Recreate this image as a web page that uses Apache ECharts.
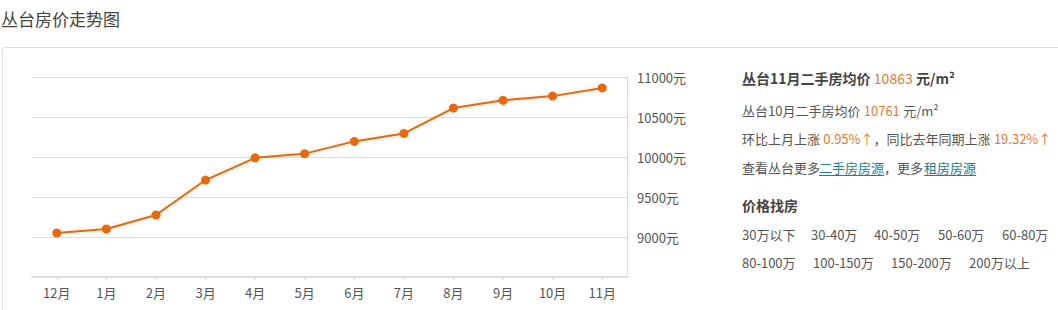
<!DOCTYPE html>
<html>
<head>
<meta charset="utf-8">
<script src="https://cdn.jsdelivr.net/npm/echarts@6/dist/echarts.min.js"></script>
<style>
html,body{margin:0;padding:0;background:#fff;}
#c{width:1058px;height:310px;}
</style>
</head>
<body>
<div id="c"></div>
<script>
const title = '丛台房价走势图';
const categories = ['12月','1月','2月','3月','4月','5月','6月','7月','8月','9月','10月','11月'];
const prices = [9050, 9100, 9275, 9712, 9990, 10042, 10195, 10295, 10612, 10708, 10761, 10863];
const yMin = 8500, yMax = 11000, yStep = 500;
const curLabel = '丛台11月二手房均价', curPrice = '10863', unit = '元/m²';
const prevLabel = '丛台10月二手房均价', prevPrice = '10761';
const momText = '环比上月上涨', momVal = '0.95%↑', yoyText = '，同比去年同期上涨', yoyVal = '19.32%↑';
const moreA = '查看丛台更多', linkA = '二手房房源', moreB = '，更多', linkB = '租房房源';
const findTitle = '价格找房';
const ranges1 = ['30万以下','30-40万','40-50万','50-60万','60-80万'];
const ranges2 = ['80-100万','100-150万','150-200万','200万以上'];

const FONT = '"Noto Sans CJK SC", "Microsoft YaHei", sans-serif';
const GREY = '#555';
const ORANGE = '#e07a35';
const LINK = '#1f7d93';

const r1x = [742, 811, 874, 938, 1002];
const r2x = [742, 813, 891, 969];

function txt(x, y, text, opt) {
  return Object.assign({
    type: 'text', x: x, y: y,
    style: Object.assign({ text: text, fill: GREY, font: '13px ' + FONT, textVerticalAlign: 'middle', verticalAlign: 'middle' }, opt || {})
  });
}

const graphics = [
  { type: 'rect', shape: { x: 2.5, y: 47.5, width: 1080, height: 300, r: 3 }, style: { fill: 'none', stroke: '#dedede', lineWidth: 1 } },
  txt(1, 18, title, { font: '17px ' + FONT, fill: '#444' }),
  { type: 'text', x: 742, y: 78, style: { text: '{b|' + curLabel + '} {o|' + curPrice + '} {b|' + unit + '}', verticalAlign: 'middle',
      rich: { b: { font: 'bold 14px ' + FONT, fill: '#444' }, o: { font: '14px ' + FONT, fill: ORANGE } } } },
  { type: 'text', x: 742, y: 110, style: { text: '{n|' + prevLabel + '} {o|' + prevPrice + '} {n|' + unit + '}', verticalAlign: 'middle',
      rich: { n: { font: '13px ' + FONT, fill: GREY }, o: { font: '13px ' + FONT, fill: ORANGE } } } },
  { type: 'text', x: 742, y: 138, style: { text: '{n|' + momText + '} {o|' + momVal + '}{n|' + yoyText + '} {o|' + yoyVal + '}', verticalAlign: 'middle',
      rich: { n: { font: '13px ' + FONT, fill: GREY }, o: { font: '13px ' + FONT, fill: ORANGE } } } },
  txt(742, 167, moreA),
  txt(819, 167, linkA, { fill: LINK }),
  txt(884, 167, moreB),
  txt(924, 167, linkB, { fill: LINK }),
  { type: 'line', shape: { x1: 819, y1: 175.5, x2: 884, y2: 175.5 }, style: { stroke: LINK, lineWidth: 1 } },
  { type: 'line', shape: { x1: 924, y1: 175.5, x2: 976, y2: 175.5 }, style: { stroke: LINK, lineWidth: 1 } },
  txt(742, 205, findTitle, { font: 'bold 14px ' + FONT, fill: '#444' })
];
ranges1.forEach((t, i) => graphics.push(txt(r1x[i], 234, t)));
ranges2.forEach((t, i) => graphics.push(txt(r2x[i], 262, t)));

const chart = echarts.init(document.getElementById('c'), null, { renderer: 'svg' });
chart.setOption({
  animation: false,
  backgroundColor: '#fff',
  textStyle: { fontFamily: FONT },
  grid: { left: 32, right: 431, top: 77, bottom: 33, containLabel: false },
  xAxis: {
    type: 'category', data: categories, boundaryGap: true,
    axisLine: { show: true, lineStyle: { color: '#dcdcdc', width: 2 } },
    axisTick: { show: true, alignWithLabel: true, length: 3, lineStyle: { color: '#dcdcdc' } },
    axisLabel: { color: GREY, fontSize: 13, margin: 9, fontFamily: FONT },
    splitLine: { show: false }
  },
  yAxis: {
    type: 'value', position: 'right', min: yMin, max: yMax, interval: yStep,
    axisLine: { show: true, lineStyle: { color: '#dcdcdc', width: 1 } },
    axisTick: { show: false },
    axisLabel: { color: GREY, fontSize: 13, margin: 10, fontFamily: FONT, showMinLabel: false,
      formatter: v => v === yMin ? '' : v + '元' },
    splitLine: { show: true, lineStyle: { color: '#dcdcdc', width: 1 } }
  },
  series: [{
    type: 'line', data: prices, symbol: 'circle', symbolSize: 9,
    itemStyle: { color: '#e8680d' },
    lineStyle: { color: '#e06a14', width: 2, shadowColor: 'rgba(240,150,60,0.35)', shadowBlur: 4 }
  }],
  graphic: graphics
});
</script>
</body>
</html>
